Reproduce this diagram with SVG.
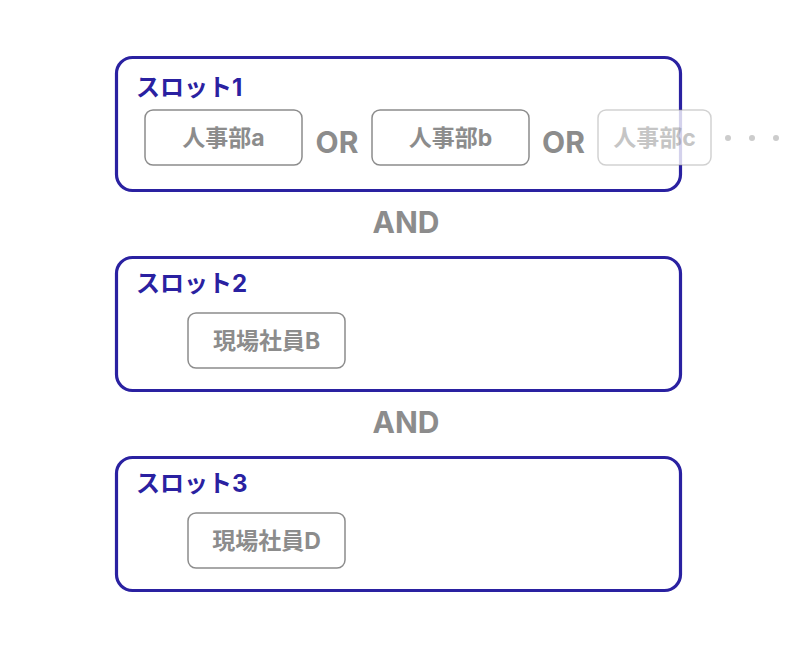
<svg xmlns="http://www.w3.org/2000/svg" width="802" height="651" viewBox="0 0 802 651">
<style>
.slot{fill:#fff;stroke:#2a21a1;stroke-width:3.2}
.slab{font-family:Inter,"Noto Sans CJK JP",sans-serif;font-weight:700;font-size:24px;fill:#2a21a1}
.item{fill:#fff;stroke:#8c8c8c;stroke-width:1.5}
.itxt{font-family:Inter,"Noto Sans CJK JP",sans-serif;font-weight:700;font-size:23px;fill:#8c8c8c;text-anchor:middle}
.op{font-family:Inter,"Liberation Sans",sans-serif;font-weight:700;font-size:30px;fill:#8c8c8c;text-anchor:middle}
</style>
<rect width="802" height="651" fill="#fff"/>
<g id="slot1">
<rect class="slot" x="116.5" y="57.5" width="564" height="133" rx="16"/>
<text class="slab" x="136" y="96">スロット1</text>
</g>
<g id="item-a">
<rect class="item" x="145" y="110" width="157" height="55" rx="8"/>
<text class="itxt" x="223.5" y="146">人事部a</text>
</g>
<g id="or1"><text class="op" x="337" y="153">OR</text></g>
<g id="item-b">
<rect class="item" x="372" y="110" width="157" height="55" rx="8"/>
<text class="itxt" x="450.5" y="146">人事部b</text>
</g>
<g id="or2"><text class="op" x="563.5" y="153">OR</text></g>
<g id="item-c">
<rect x="598" y="110" width="113" height="55" rx="8" fill="#fff" fill-opacity="0.8" stroke="#8c8c8c" stroke-opacity="0.4" stroke-width="1.5"/>
<text class="itxt" x="654.5" y="146" style="fill-opacity:0.5">人事部c</text>
</g>
<g id="dots" fill="#cccccc">
<circle cx="728" cy="138" r="3"/>
<circle cx="752" cy="138" r="3"/>
<circle cx="776" cy="138" r="3"/>
</g>
<g id="and1"><text class="op" x="406" y="233">AND</text></g>
<g id="slot2">
<rect class="slot" x="116.5" y="257.5" width="564" height="133" rx="16"/>
<text class="slab" x="136" y="292">スロット2</text>
</g>
<g id="item-B">
<rect class="item" x="188" y="313" width="157" height="55" rx="8"/>
<text class="itxt" x="266.5" y="349">現場社員B</text>
</g>
<g id="and2"><text class="op" x="406" y="433">AND</text></g>
<g id="slot3">
<rect class="slot" x="116.5" y="457.5" width="564" height="133" rx="16"/>
<text class="slab" x="136" y="492">スロット3</text>
</g>
<g id="item-D">
<rect class="item" x="188" y="513" width="157" height="55" rx="8"/>
<text class="itxt" x="266.5" y="549">現場社員D</text>
</g>
<g id="connectors"></g>
</svg>
